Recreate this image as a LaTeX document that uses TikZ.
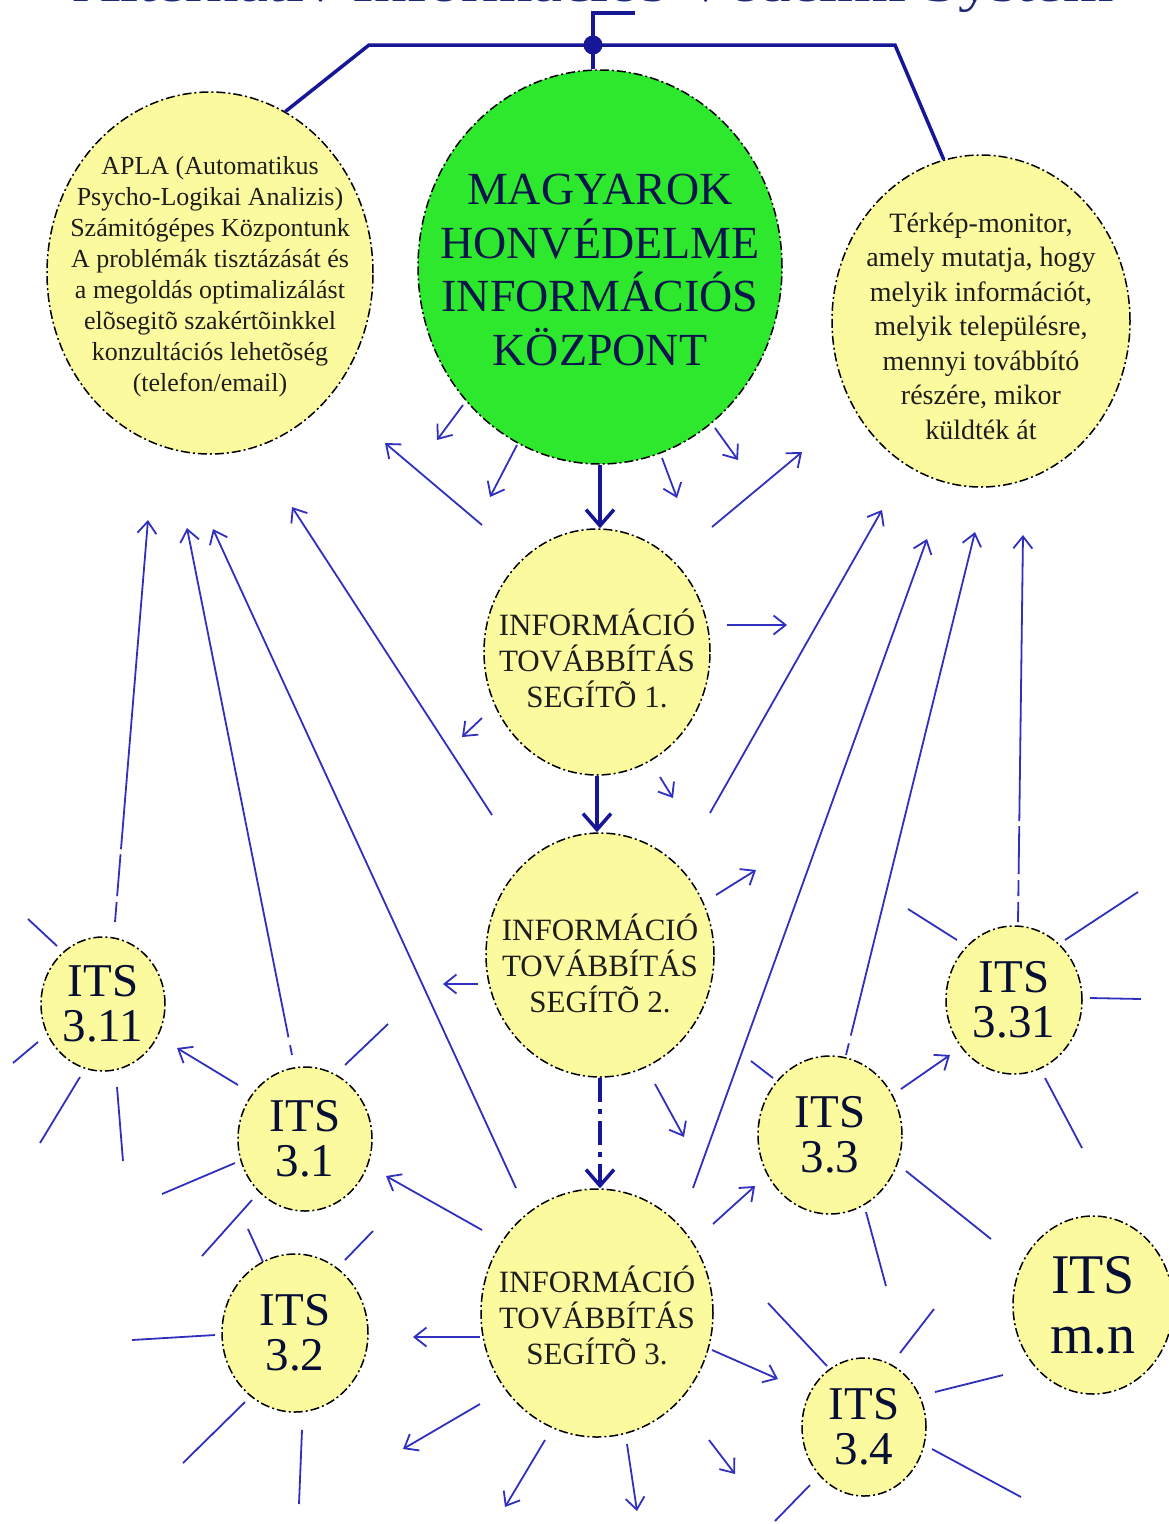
\documentclass[tikz,border=0pt]{standalone}
\usepackage{fontspec}
\setmainfont{Liberation Serif}
\usepackage{graphicx}
\usetikzlibrary{shapes.geometric,arrows.meta,calc}

\definecolor{lnc}{RGB}{48,48,190}
\definecolor{busc}{RGB}{22,22,150}
\definecolor{yel}{RGB}{252,250,158}
\definecolor{grn}{RGB}{45,232,45}
\definecolor{navy}{RGB}{10,22,75}
\definecolor{txt}{RGB}{30,30,30}
\definecolor{ttl}{RGB}{30,40,120}

\tikzset{
 blob/.style={ellipse, draw=black, line width=1.5pt, dash pattern=on 9pt off 3pt on 2pt off 3pt, fill=yel, inner sep=0pt},
 btext/.style={align=center, text=txt, inner sep=0pt},
 itst/.style={align=center, text=navy!70!black, inner sep=0pt, font=\fontsize{47}{45}\selectfont},
 inft/.style={align=center, text=txt, inner sep=0pt, font=\fontsize{31}{36}\selectfont},
 thinarr/.style={draw=lnc, line width=1.8pt, -{Straight Barb[length=12pt,width=19pt,line width=1.8pt]}},
 raystyle/.style={draw=lnc, line width=1.8pt},
 mainarr/.style={draw=busc, line width=4pt, -{Straight Barb[length=16pt,width=28pt,line width=3.5pt]}},
 busline/.style={draw=busc, line width=3.5pt},
}
\newcommand\myray[5]{\draw[raystyle] ($(#1)+(#2,#3)$) -- ($(#1)+(#4,#5)$);}
\newcommand\myarr[5]{\draw[thinarr] ($(#1)+(#2,#3)$) -- ($(#1)+(#4,#5)$);}

\begin{document}
\begin{tikzpicture}[x=1pt,y=-1pt]
\useasboundingbox (0,0) rectangle (1169,1524);
\clip (0,0) rectangle (1169,1524);
\fill[white] (0,0) rectangle (1169,1524);

% title (cut off at the top of the picture)
\node[anchor=base west, inner sep=0pt, text=ttl] (title) at (73,1.5) {\resizebox{1040pt}{36pt}{Alternatív Információs Védelmi System}};

% nodes
\node[blob, minimum width=326pt, minimum height=362pt] (apla) at (210,273) {};
\node[btext, font=\fontsize{26}{31}\selectfont] (aplat) at ($(apla)+(0,4)$) {APLA (Automatikus\\Psycho-Logikai Analizis)\\Számitógépes Központunk\\A problémák tisztázását és\\a megoldás optimalizálást\\elõsegitõ szakértõinkkel\\konzultációs lehetõség\\(telefon/email)};

\node[blob, fill=grn, minimum width=364pt, minimum height=394pt] (green) at (600,267) {};
\node[align=center, text=navy, inner sep=0pt, font=\fontsize{46}{53.5}\selectfont] (greent) at ($(green)+(0,3)$) {MAGYAROK\\HONVÉDELME\\INFORMÁCIÓS\\KÖZPONT};

\node[blob, minimum width=298pt, minimum height=332pt] (terkep) at (981,321) {};
\node[btext, font=\fontsize{28}{34.5}\selectfont] (terkept) at ($(terkep)+(0,5)$) {Térkép-monitor,\\amely mutatja, hogy\\melyik információt,\\melyik településre,\\mennyi továbbító\\részére, mikor\\küldték át};

\node[blob, minimum width=226pt, minimum height=246pt] (inf1) at (597,652) {};
\node[inft] (inf1t) at ($(inf1)+(0,6)$) {INFORMÁCIÓ\\TOVÁBBÍTÁS\\SEGÍTÕ 1.};
\node[blob, minimum width=228pt, minimum height=244pt] (inf2) at (600,955) {};
\node[inft] (inf2t) at ($(inf2)+(0,8)$) {INFORMÁCIÓ\\TOVÁBBÍTÁS\\SEGÍTÕ 2.};
\node[blob, minimum width=232pt, minimum height=248pt] (inf3) at (597,1313) {};
\node[inft] (inf3t) at ($(inf3)+(0,2)$) {INFORMÁCIÓ\\TOVÁBBÍTÁS\\SEGÍTÕ 3.};

\node[blob, minimum width=124pt, minimum height=134pt] (its311) at (103,1004) {};
\node[itst] (its311t) at (its311) {ITS\\3.11};
\node[blob, minimum width=134pt, minimum height=144pt] (its31) at (305,1139) {};
\node[itst] (its31t) at (its31) {ITS\\3.1};
\node[blob, minimum width=146pt, minimum height=158pt] (its32) at (295,1333) {};
\node[itst] (its32t) at (its32) {ITS\\3.2};
\node[blob, minimum width=144pt, minimum height=158pt] (its33) at (830,1135) {};
\node[itst] (its33t) at (its33) {ITS\\3.3};
\node[blob, minimum width=136pt, minimum height=148pt] (its331) at (1014,1000) {};
\node[itst] (its331t) at (its331) {ITS\\3.31};
\node[blob, minimum width=160pt, minimum height=178pt] (itsmn) at (1093,1305) {};
\node[itst, font=\fontsize{56}{60}\selectfont] (itsmnt) at (itsmn) {ITS\\m.n};
\node[blob, minimum width=124pt, minimum height=138pt] (its34) at (864,1427) {};
\node[itst] (its34t) at (its34) {ITS\\3.4};

% bus at the top
\coordinate (bl) at (369,45);
\coordinate (br) at (895,45);
\coordinate (jn) at (593,45);
\coordinate (tp) at (593,13);
\coordinate (te) at (635,13);
\draw[busline] (apla.65) -- (bl) -- (br) -- (terkep.103);
\draw[busline] (jn |- green.north) -- (jn) -- (tp) -- (te);
\fill[busc] (jn) circle [radius=9.5pt];

% main vertical arrows
\draw[mainarr] (green.south) -- (green.south |- inf1.north);
\draw[mainarr] (inf1.south) -- (inf1.south |- inf2.north);
\draw[mainarr, dash pattern=on 24pt off 7pt on 5pt off 7pt] (inf2.south) -- (inf2.south |- inf3.north);

% small arrows around the centre
\myarr{green}{-137}{138}{-163}{173}
\myarr{green}{-83}{178}{-110}{230}
\myarr{green}{62}{191}{77}{231}
\myarr{green}{115}{161}{138}{193}

\draw[thinarr] ($(inf1)+(-115,-127)$) -- ($(apla)+(175,170)$);
\draw[thinarr] ($(inf1)+(115,-125)$) -- ($(terkep)+(-179,131)$);
\myarr{inf1}{130}{-27}{190}{-27}
\myarr{inf1}{-115}{66}{-135}{85}
\myarr{inf1}{63}{125}{76}{146}

\draw[thinarr] ($(inf2)+(-108,-140)$) -- ($(apla)+(82,234)$);
\draw[thinarr] ($(inf2)+(110,-142)$) -- ($(terkep)+(-99,189)$);
\myarr{inf2}{-122}{29}{-157}{29}
\myarr{inf2}{116}{-60}{156}{-85}
\myarr{inf2}{55}{129}{84}{182}

\draw[thinarr] ($(inf3)+(-81,-125)$) -- ($(apla)+(3,256)$);
\draw[thinarr] ($(inf3)+(96,-125)$) -- ($(terkep)+(-54,218)$);
\draw[thinarr] ($(inf3)+(-115,-83)$) -- ($(its31)+(81,37)$);
\draw[thinarr] ($(inf3)+(-117,24)$) -- ($(its32)+(118,4)$);
\myarr{inf3}{-117}{91}{-194}{136}
\myarr{inf3}{-52}{127}{-92}{194}
\myarr{inf3}{30}{131}{40}{198}
\myarr{inf3}{112}{127}{138}{161}
\draw[thinarr] ($(inf3)+(115,37)$) -- ($(its34)+(-86,-48)$);
\draw[thinarr] ($(inf3)+(116,-89)$) -- ($(its33)+(-75,51)$);

% long arrows from the ITS nodes
\draw[thinarr, dash pattern=on 20pt off 6pt on 42pt off 5pt on 900pt] ($(its311)+(12,-82)$) -- ($(apla)+(-62,247)$);
\draw[thinarr, dash pattern=on 10pt off 8pt on 900pt] ($(its31)+(-13,-84)$) -- ($(apla)+(-23,255)$);
\draw[thinarr] ($(its31)+(-67,-54)$) -- ($(its311)+(74,44)$);
\draw[thinarr, dash pattern=on 12pt off 8pt on 900pt] ($(its33)+(16,-80)$) -- ($(terkep)+(-6,211)$);
\draw[thinarr] ($(its33)+(71,-46)$) -- ($(its331)+(-64,55)$);
\draw[thinarr, dash pattern=on 20pt off 6pt on 16pt off 6pt on 48pt off 5pt on 900pt] ($(its331)+(4,-78)$) -- ($(terkep)+(42,214)$);

% rays
\myray{its311}{-75}{-85}{-46}{-58}
\myray{its311}{-65}{38}{-90}{59}
\myray{its311}{-23}{73}{-63}{139}
\myray{its311}{14}{83}{20}{157}

\myray{its31}{40}{-74}{83}{-115}
\myray{its31}{-70}{24}{-143}{55}
\myray{its31}{-53}{61}{-103}{117}

\myray{its32}{-47}{-104}{-32}{-71}
\myray{its32}{78}{-102}{50}{-73}
\myray{its32}{-80}{2}{-163}{7}
\myray{its32}{-50}{69}{-112}{130}
\myray{its32}{7}{97}{4}{171}

\myray{its33}{-79}{-74}{-57}{-57}
\myray{its33}{76}{36}{161}{104}
\myray{its33}{36}{77}{56}{151}

\myray{its331}{-106}{-91}{-57}{-60}
\myray{its331}{51}{-60}{124}{-108}
\myray{its331}{76}{-2}{127}{-1}
\myray{its331}{31}{78}{68}{148}

\myray{its34}{-96}{-124}{-37}{-61}
\myray{its34}{36}{-74}{70}{-118}
\myray{its34}{71}{-35}{139}{-52}
\myray{its34}{68}{22}{157}{70}
\myray{its34}{-54}{58}{-89}{94}
\end{tikzpicture}
\end{document}
